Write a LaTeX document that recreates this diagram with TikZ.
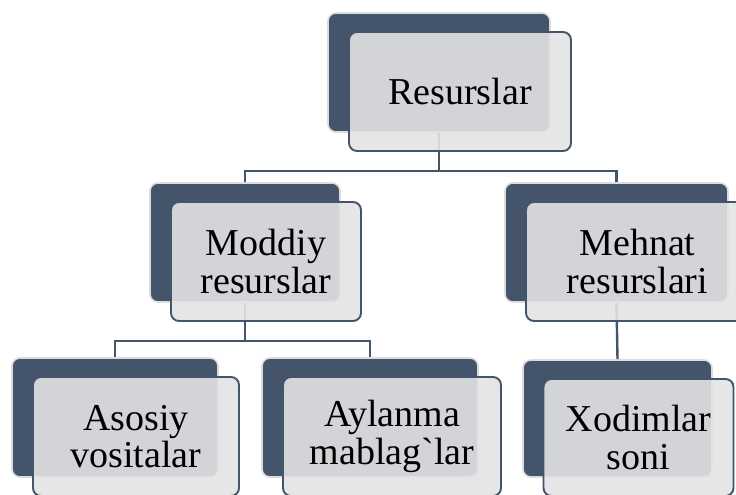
\documentclass[tikz,border=0pt]{standalone}
\usepackage{fontspec}
\setmainfont{Liberation Serif}[Ligatures=TeXOff]
\usetikzlibrary{positioning}

\definecolor{slate}{HTML}{44546A}
\definecolor{paper}{HTML}{E3E3E3}
\definecolor{rim}{HTML}{DCDCDC}

\tikzset{
  backbox/.style={draw=rim, line width=1.6pt, fill=slate, rounded corners=8pt, minimum height=119pt},
  frontbox/.style={draw=slate, line width=1.9pt, fill=paper, fill opacity=0.9, text opacity=1,
    rounded corners=8pt, minimum height=119pt, align=center, inner sep=0pt,
    font=\fontsize{38}{37.5}\selectfont},
  conn/.style={draw=slate, line width=2.4pt}
}

\begin{document}
\begin{tikzpicture}[x=1pt, y=1pt]

\useasboundingbox (0,0) rectangle (736,495);
\clip (0,0) rectangle (736,495);

% dark boxes behind
\node[backbox, minimum width=222pt] (res) at (439,422.5) {};
\node[backbox, minimum width=190pt] (mod) at (245,252.5) {};
\node[backbox, minimum width=223pt] (meh) at (616.5,252.5) {};
\node[backbox, minimum width=206pt] (aso) at (115,77.5) {};
\node[backbox, minimum width=216pt] (ayl) at (370,77.5) {};
\node[backbox, minimum width=189pt, minimum height=117pt] (xod) at (617.5,76.5) {};

% connectors
\draw[conn] (res.south) -- ++(0,-38) -| (mod.north);
\draw[conn] (res.south) -- ++(0,-38) -| (meh.north);
\draw[conn] (mod.south) -- ++(0,-38) -| (aso.north);
\draw[conn] (mod.south) -- ++(0,-38) -| (ayl.north);
\draw[conn] (meh.south) -- (xod.north);

% light boxes in front
\node[frontbox, minimum width=222pt] (resf) at ([xshift=21pt,yshift=-19pt]res.center) {Resurslar};
\node[frontbox, minimum width=190pt] (modf) at ([xshift=21pt,yshift=-19pt]mod.center) {Moddiy\\resurslar};
\node[frontbox, minimum width=223pt] (mehf) at ([xshift=21pt,yshift=-19pt]meh.center) {Mehnat\\resurslari};
\node[frontbox, minimum width=206pt] (asof) at ([xshift=21pt,yshift=-19pt]aso.center) {Asosiy\\vositalar};
\node[frontbox, minimum width=218pt] (aylf) at ([xshift=22pt,yshift=-19pt]ayl.center) {Aylanma\\mablag`lar};
\node[frontbox, minimum width=190pt, minimum height=117pt] (xodf) at ([xshift=21pt,yshift=-19pt]xod.center) {Xodimlar\\soni};

\end{tikzpicture}
\end{document}
